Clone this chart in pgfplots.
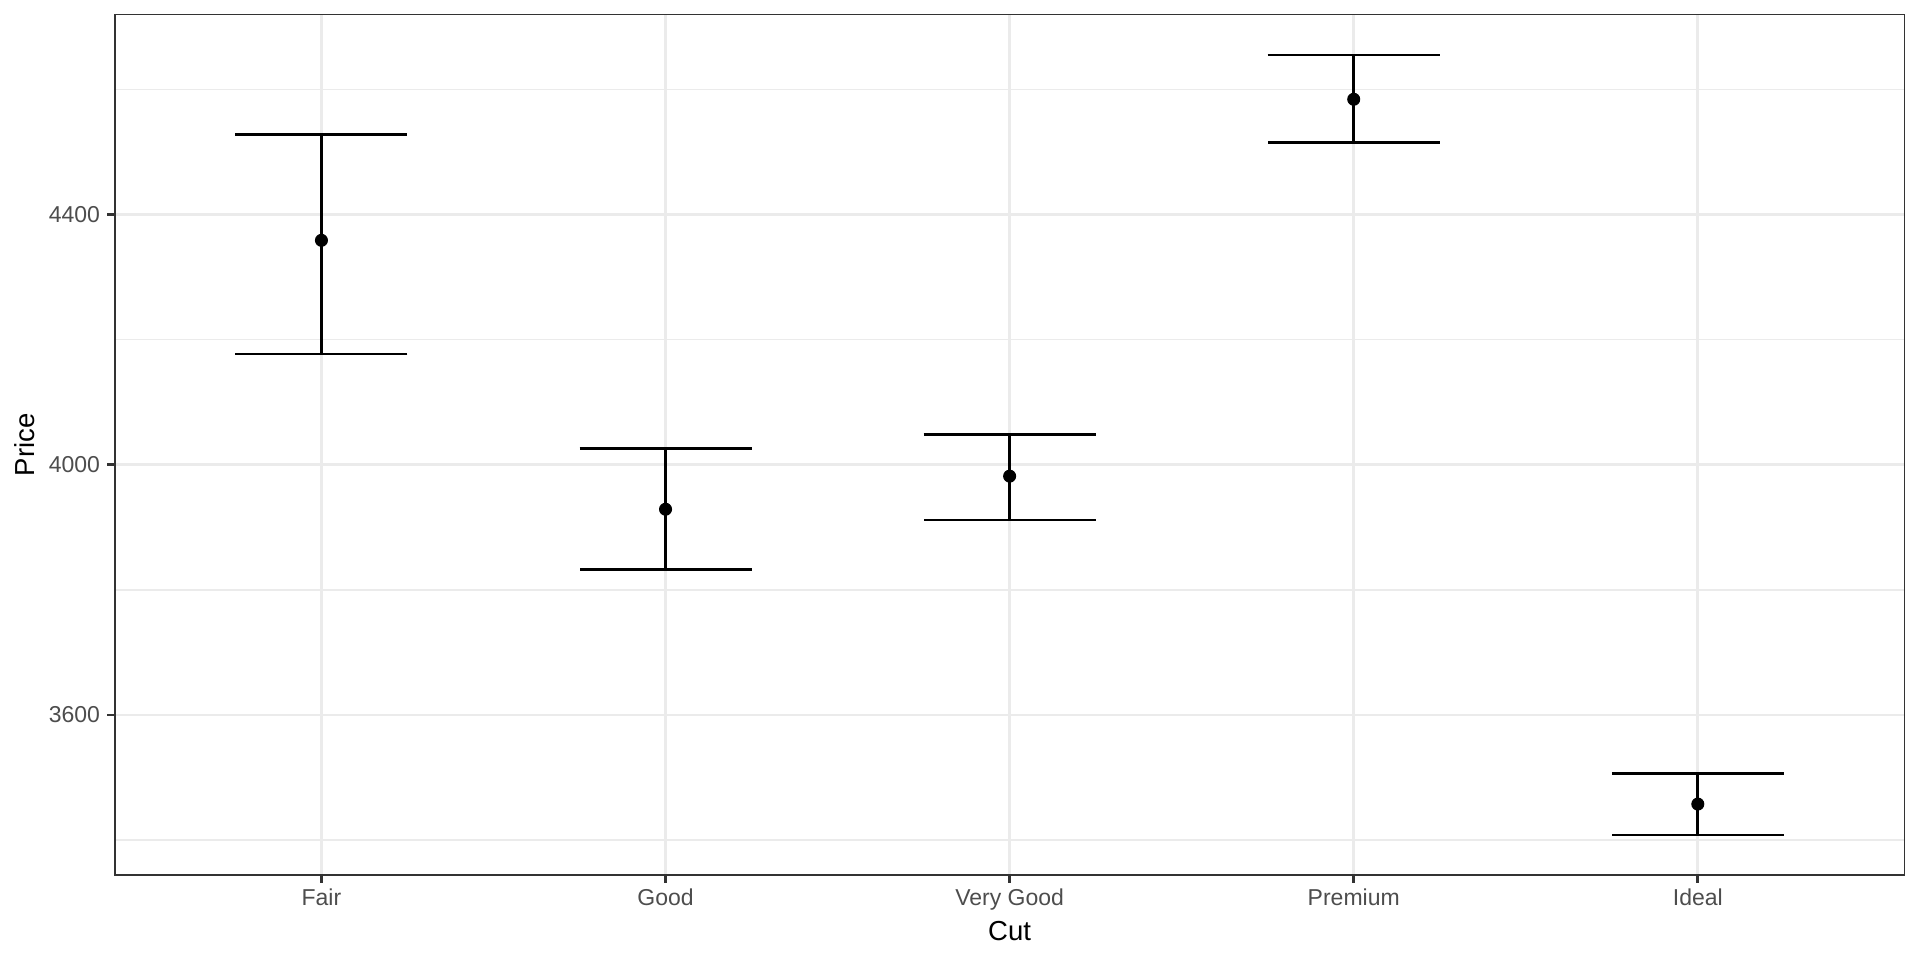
\documentclass[border=0pt]{standalone}
\usepackage{fontspec}
\setmainfont{Liberation Sans}
\usepackage{pgfplots}
\pgfplotsset{compat=1.18}
\definecolor{gray92}{HTML}{EBEBEB}
\definecolor{gray30}{HTML}{4D4D4D}
\definecolor{gray20}{HTML}{333333}
\begin{document}
\begin{tikzpicture}
\useasboundingbox (-46pt,-34pt) rectangle (722pt,350pt);
\begin{axis}[
  at={(0,0)}, anchor=south west,
  scale only axis, width=715.7pt, height=344.1pt,
  xmin=-0.6, xmax=4.6, ymin=3344.1, ymax=4719.4,
  xtick={0,1,2,3,4},
  xticklabels={Fair,Good,Very Good,Premium,Ideal},
  ytick={3600,4000,4400},
  minor ytick={3400,3800,4200,4600},
  minor x tick num=0,
  grid=both,
  major grid style={color=gray92, line width=1.07pt},
  minor grid style={color=gray92, line width=0.53pt},
  tick pos=left,
  tick align=outside,
  major tick length=3pt,
  minor tick length=0pt,
  major tick style={color=gray20, line width=1.07pt},
  axis line style={color=gray20, line width=0.53pt},
  /pgf/number format/assume math mode=true,
  /pgf/number format/1000 sep={},
  ticklabel style={font=\fontsize{9.2}{11}\selectfont, text=gray30},
  xticklabel style={anchor=north, inner sep=0pt, yshift=-2.3pt},
  yticklabel style={anchor=east, inner sep=0pt, xshift=-2.8pt},
  xlabel={Cut}, ylabel={Price},
  label style={font=\fontsize{11}{13}\selectfont, text=black},
  xlabel style={at={(axis description cs:0.5,-0.0651)}, anchor=center},
  ylabel style={at={(axis description cs:-0.0503,0.5)}, anchor=center},
]
\addplot[only marks, mark=*, mark size=2.4pt, black,
  error bars/.cd, y dir=both, y explicit, error mark=|,
  error bar style={line width=1.07pt, black},
  error mark options={black, line width=1.07pt, mark size=34.4pt}]
  coordinates {
  (0,4358.76) += (0,168.7) -= (0,181.8)
  (1,3928.86) += (0,96.6) -= (0,96.2)
  (2,3981.76) += (0,66.5) -= (0,69.9)
  (3,4584.26) += (0,70.7) -= (0,69.6)
  (4,3457.54) += (0,48.5) -= (0,49.5)
  };
\end{axis}
\end{tikzpicture}
\end{document}
